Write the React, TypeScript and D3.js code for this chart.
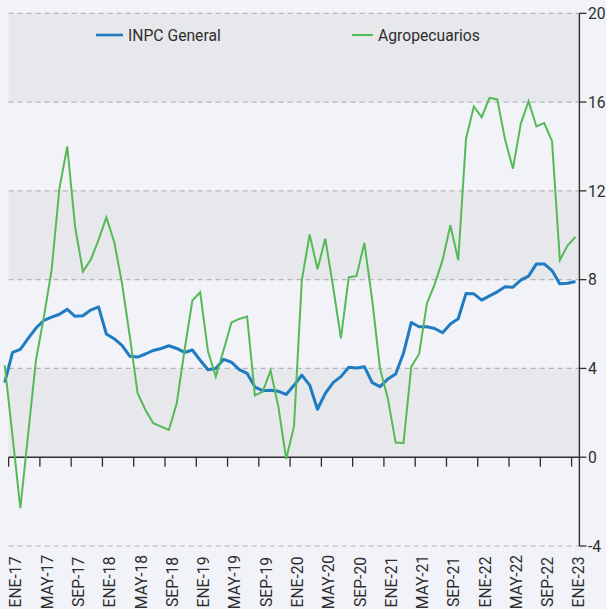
import React from "react";
import * as d3 from "d3";

const monthAbbr = ["ENE", "FEB", "MAR", "ABR", "MAY", "JUN", "JUL", "AGO", "SEP", "OCT", "NOV", "DIC"];
const categories: string[] = ["DIC-16"];
for (let yr = 17; yr <= 23; yr++) {
  for (const m of monthAbbr) {
    if (yr === 23 && m !== "ENE") break;
    categories.push(`${m}-${yr}`);
  }
}

const tickLabels = [
  "ENE-17", "MAY-17", "SEP-17", "ENE-18", "MAY-18", "SEP-18", "ENE-19", "MAY-19", "SEP-19",
  "ENE-20", "MAY-20", "SEP-20", "ENE-21", "MAY-21", "SEP-21", "ENE-22", "MAY-22", "SEP-22", "ENE-23",
];

const yTicks = [-4, 0, 4, 8, 12, 16, 20];
const shadedBands = [[16, 20], [8, 12], [0, 4]];

const inpcGeneral = [
  3.36, 4.72, 4.86, 5.35, 5.82, 6.16, 6.31, 6.44, 6.66, 6.35, 6.37, 6.63, 6.77,
  5.55, 5.34, 5.04, 4.55, 4.51, 4.65, 4.81, 4.90, 5.02, 4.90, 4.72, 4.83,
  4.37, 3.94, 4.00, 4.41, 4.28, 3.95, 3.78, 3.16, 3.00, 3.02, 2.97, 2.83,
  3.24, 3.70, 3.25, 2.16, 2.88, 3.36, 3.63, 4.05, 4.02, 4.08, 3.36, 3.18,
  3.52, 3.75, 4.68, 6.07, 5.88, 5.88, 5.80, 5.61, 6.00, 6.24, 7.38, 7.36,
  7.08, 7.27, 7.45, 7.68, 7.66, 7.98, 8.16, 8.71, 8.71, 8.41, 7.81, 7.84,
  7.92,
];

const agropecuarios = [
  4.14, 0.95, -2.30, 1.05, 4.38, 6.3, 8.44, 12.12, 14.0, 10.39, 8.36, 8.89, 9.79,
  10.80, 9.71, 7.84, 5.44, 2.88, 2.13, 1.53, 1.38, 1.23, 2.43, 4.83, 7.06,
  7.43, 4.76, 3.63, 4.83, 6.07, 6.23, 6.34, 2.78, 2.96, 3.90, 2.28, -0.08,
  1.40, 7.98, 10.04, 8.47, 9.85, 7.68, 5.35, 8.10, 8.17, 9.66, 7.08, 4.00,
  2.65, 0.66, 0.63, 4.08, 4.65, 6.93, 7.80, 8.88, 10.45, 8.88, 14.35, 15.80,
  15.32, 16.19, 16.12, 14.30, 13.0, 15.02, 16.04, 14.90, 15.05, 14.24, 8.88, 9.55,
  9.93,
];

const seriesNames = ["INPC General", "Agropecuarios"];

const W = 606;
const H = 609;
const BG = "#f1f3f8";
const BAND = "#e7e8ec";
const BLUE = "#1f7bc2";
const GREEN = "#56b957";
const TEXT = "#2e2e2e";
const FONT = "Roboto, 'Noto Sans', sans-serif";
const FS = 15.7;

export default function App() {
  const x = d3.scaleBand<string>().domain(categories).range([0.8, 579.4]).padding(0);
  const bw = x.bandwidth();
  const cx = (i: number) => (x(categories[i]) as number) + bw / 2;
  const y = d3.scaleLinear().domain([-4, 20]).range([546, 13.3]);

  const left = x("ENE-17") as number;
  const right = 579.4;

  const line = d3
    .line<number>()
    .x((_, i) => cx(i))
    .y((d) => y(d));

  return (
    <div style={{ position: "absolute", left: 0, top: 0, width: W, height: H, background: BG }}>
      <svg width={W} height={H} style={{ display: "block" }} fontFamily={FONT}>
        <rect x={0} y={0} width={W} height={H} fill={BG} />
        {shadedBands.map(([a, b]) => (
          <rect key={a} x={left} y={y(b)} width={right - left} height={y(a) - y(b)} fill={BAND} />
        ))}
        {yTicks
          .filter((t) => t !== 0)
          .map((t) => (
            <line
              key={t}
              x1={left}
              x2={right}
              y1={y(t)}
              y2={y(t)}
              stroke="#b4b5b9"
              strokeWidth={1.2}
              strokeDasharray="5,4"
            />
          ))}
        <line x1={left} x2={right} y1={y(0)} y2={y(0)} stroke={TEXT} strokeWidth={1.4} />
        {tickLabels.map((t) => {
          const tx = x(t) as number;
          return (
            <g key={t}>
              <line x1={tx} x2={tx} y1={y(0)} y2={y(0) + 9.5} stroke={TEXT} strokeWidth={1.3} />
              <text
                transform={`translate(${tx + 7.2},582) rotate(-90)`}
                textAnchor="middle"
                dy="0.36em"
                fontSize={FS}
                fill={TEXT}
              >
                {t}
              </text>
            </g>
          );
        })}
        <line x1={right} x2={right} y1={y(20)} y2={y(-4)} stroke={TEXT} strokeWidth={1.4} />
        {yTicks.map((t) => (
          <g key={t}>
            <line x1={right} x2={right + 7} y1={y(t)} y2={y(t)} stroke={TEXT} strokeWidth={1.3} />
            <text x={right + 8.5} y={y(t)} dy="0.36em" fontSize={FS} fill={TEXT}>
              {t}
            </text>
          </g>
        ))}
        <path d={line(inpcGeneral) || ""} fill="none" stroke={BLUE} strokeWidth={3} strokeLinejoin="round" />
        <path d={line(agropecuarios) || ""} fill="none" stroke={GREEN} strokeWidth={2} strokeLinejoin="miter" />
        <g>
          <line x1={96} x2={123} y1={35} y2={35} stroke={BLUE} strokeWidth={2.6} />
          <text x={128} y={35} dy="0.36em" fontSize={FS} fill={TEXT}>
            {seriesNames[0]}
          </text>
          <line x1={352} x2={373} y1={35} y2={35} stroke={GREEN} strokeWidth={2} />
          <text x={378} y={35} dy="0.36em" fontSize={FS} fill={TEXT}>
            {seriesNames[1]}
          </text>
        </g>
      </svg>
    </div>
  );
}
